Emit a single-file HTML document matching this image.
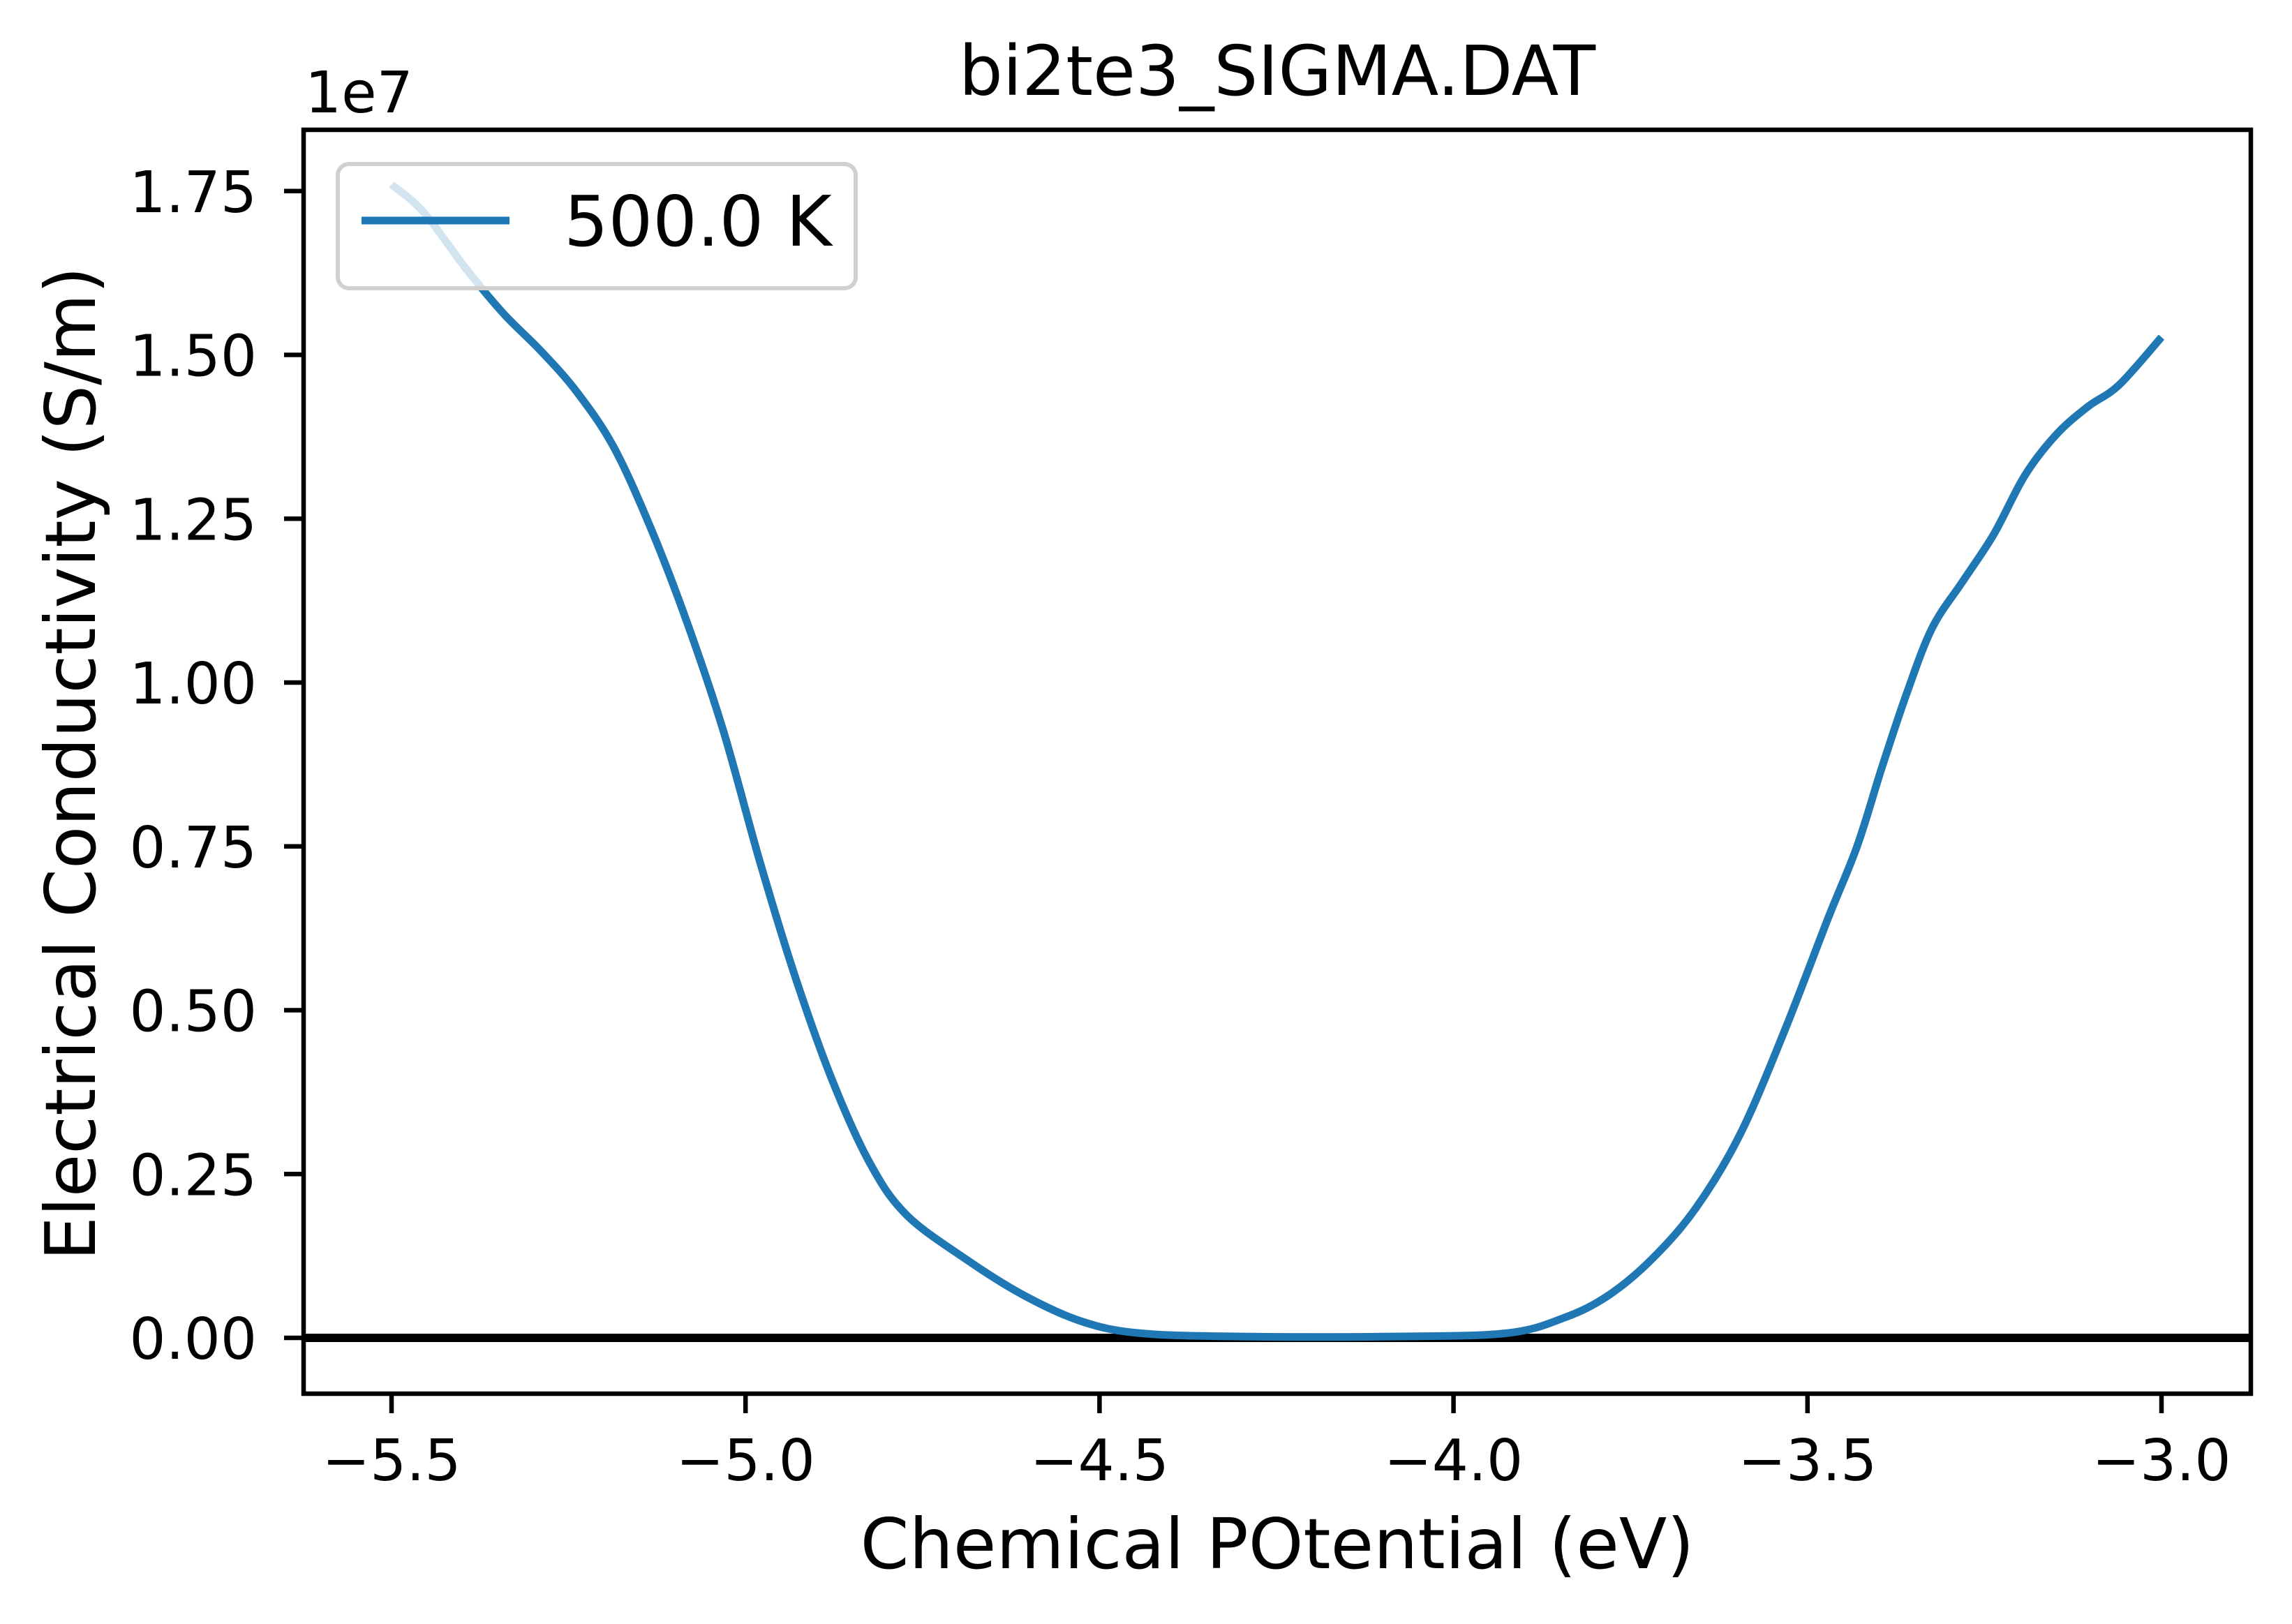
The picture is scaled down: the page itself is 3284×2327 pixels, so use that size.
<!DOCTYPE html>
<html><head><meta charset="utf-8">
<style>
html,body{margin:0;padding:0;background:#fff;}
svg{display:block;font-family:"DejaVu Sans","Liberation Sans",sans-serif;}
</style></head>
<body>
<svg id="chart" width="3284" height="2327" viewBox="0 0 3284 2327" xmlns="http://www.w3.org/2000/svg">
<rect x="0" y="0" width="3284" height="2327" fill="#fff"/>
<g id="plot"></g>
<text x="1830" y="136" font-size="99" text-anchor="middle">bi2te3_SIGMA.DAT</text>
<text x="437" y="161" font-size="82">1e7</text>
<text x="1830" y="2247" font-size="100" text-anchor="middle">Chemical POtential (eV)</text>
<text x="0" y="0" font-size="100" text-anchor="middle" transform="translate(136,1094) rotate(-90)">Electrical Conductivity (S/m)</text>
</svg>
<script>
const mu = [-5.5,-5.455,-5.393,-5.341,-5.289,-5.238,-5.186,-5.134,-5.083,-5.031,-4.979,-4.928,-4.876,-4.824,-4.773,-4.690,-4.607,-4.525,-4.442,-4.298,-4.091,-3.926,-3.843,-3.781,-3.719,-3.657,-3.595,-3.533,-3.471,-3.430,-3.395,-3.360,-3.324,-3.281,-3.237,-3.193,-3.149,-3.104,-3.060,-3.0];
const sigma = [1.76,1.718,1.629,1.562,1.506,1.443,1.359,1.236,1.093,0.925,0.724,0.545,0.389,0.266,0.188,0.121,0.065,0.025,0.007,0.002,0.002,0.007,0.031,0.065,0.121,0.199,0.311,0.467,0.640,0.750,0.870,0.983,1.083,1.154,1.226,1.316,1.378,1.421,1.454,1.527];
const xTicks = [-5.5,-5.0,-4.5,-4.0,-3.5,-3.0];
const xTickLabels = ["\u22125.5","\u22125.0","\u22124.5","\u22124.0","\u22123.5","\u22123.0"];
const yTicks = [0,0.25,0.5,0.75,1.0,1.25,1.5,1.75];
const yTickLabels = ["0.00","0.25","0.50","0.75","1.00","1.25","1.50","1.75"];
const seriesLabel = "500.0 K";

const L=435,R=3225,T=186,B=1997;
const xS = v => 561 + (v + 5.5) * 1014.4;
const yS = v => 1917 - v * 939;
const NS="http://www.w3.org/2000/svg";
const g=document.getElementById('plot');
function mk(tag,attrs,parent){const e=document.createElementNS(NS,tag);for(const k in attrs)e.setAttribute(k,attrs[k]);(parent||g).appendChild(e);return e;}

let z=mk('line',{x1:L,x2:R,y1:yS(0),y2:yS(0),stroke:'#000','stroke-width':12});



const pts=mu.map((m,i)=>[xS(m),yS(sigma[i])]);
let d='M'+pts[0][0].toFixed(1)+' '+pts[0][1].toFixed(1);
for(let i=0;i<pts.length-1;i++){
  const p0=pts[Math.max(i-1,0)],p1=pts[i],p2=pts[i+1],p3=pts[Math.min(i+2,pts.length-1)];
  const c1=[p1[0]+(p2[0]-p0[0])/6,p1[1]+(p2[1]-p0[1])/6];
  const c2=[p2[0]-(p3[0]-p1[0])/6,p2[1]-(p3[1]-p1[1])/6];
  d+=' C'+c1[0].toFixed(1)+' '+c1[1].toFixed(1)+' '+c2[0].toFixed(1)+' '+c2[1].toFixed(1)+' '+p2[0].toFixed(1)+' '+p2[1].toFixed(1);
}
let p=mk('path',{d:d,fill:'none',stroke:'#1f77b4','stroke-width':11,'stroke-linejoin':'round'});



let sp=mk('rect',{x:L,y:T,width:R-L,height:B-T,fill:'none',stroke:'#000','stroke-width':6.5});



xTicks.forEach((v,i)=>{
  let t=mk('line',{x1:xS(v),x2:xS(v),y1:B,y2:B+28,stroke:'#000','stroke-width':6.5});
  
  
  let tx=mk('text',{x:xS(v),y:2121,'font-size':82,'text-anchor':'middle'});
  tx.textContent=xTickLabels[i];
  
  
});
yTicks.forEach((v,i)=>{
  let t=mk('line',{x1:L-28,x2:L,y1:yS(v),y2:yS(v),stroke:'#000','stroke-width':6.5});
  
  
  let tx=mk('text',{x:368,y:yS(v)+30,'font-size':82,'text-anchor':'end'});
  tx.textContent=yTickLabels[i];
  
  
});

let lg=mk('g',{});


let lb=mk('rect',{x:484,y:235,width:742,height:178,rx:16,fill:'#fff','fill-opacity':0.8,stroke:'#d0d0d0','stroke-width':6},lg);


let ll=mk('line',{x1:518,x2:730,y1:316,y2:316,stroke:'#1f77b4','stroke-width':11},lg);


let lt=mk('text',{x:808,y:352,'font-size':100},lg);
lt.textContent=seriesLabel;


</script>
</body></html>
